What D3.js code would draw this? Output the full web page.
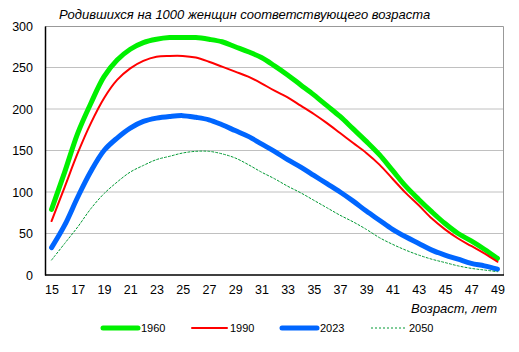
<!DOCTYPE html>
<html>
<head>
<meta charset="utf-8">
<script src="https://cdn.jsdelivr.net/npm/d3@7"></script>
<style>
  body { margin: 0; background: #fff; }
  svg { font-family: "Liberation Sans", Arial, sans-serif; }
</style>
</head>
<body>
<div id="chart"></div>
<script>
// Ages (x categories)
const ages = d3.range(15, 50);
const yTicks = [0, 50, 100, 150, 200, 250, 300];

// Births per 1000 women of the corresponding age
const v1960 = [79, 124, 171, 207, 239, 259, 272, 280, 284, 286, 286, 286, 284, 281, 275, 269, 262, 252, 241,
               229, 217, 204, 191, 176, 161, 145, 126, 107, 91, 76, 62, 50, 41, 31, 20];
const v1990 = [65, 106, 147, 183, 213, 235, 249, 258, 263, 264, 264, 262, 257, 251, 245, 239, 231, 222, 214,
               204, 194, 183, 171, 159, 147, 133, 116, 99, 84, 68, 55, 44, 35, 26, 16];
const v2023 = [33, 60, 94, 125, 150, 165, 177, 185, 189, 191, 192, 190, 187, 181, 174, 167, 158, 149, 139,
               130, 120, 110, 100, 89, 77, 66, 55, 46, 38, 30, 24, 19, 14, 11, 7];
const v2050 = [18, 38, 58, 80, 98, 112, 124, 132, 139, 143, 147, 149, 149, 146, 141, 133, 124, 116, 107,
               99, 90, 81, 72, 64, 55, 45, 37, 30, 24, 19, 15, 11, 8, 6, 4];

const seriesNames = ['1960', '1990', '2023', '2050'];
const seriesValues = [v1960, v1990, v2023, v2050];
const seriesStyle = [
    {color: '#00f000', width: 5, dash: null},
    {color: '#ff0000', width: 2, dash: null},
    {color: '#0066ff', width: 5, dash: null},
    {color: '#009933', width: 1, dash: '2,2'}
];

const width = 519, height = 352;
const plot = {left: 45, right: 504, top: 26, bottom: 275};

const svg = d3.select('#chart')
    .append('svg')
    .attr('width', width)
    .attr('height', height);

const x = d3.scalePoint()
    .domain(ages)
    .range([plot.left, plot.right])
    .padding(0.5);

const y = d3.scaleLinear()
    .domain([0, 300])
    .range([plot.bottom, plot.top]);

// Gridlines
svg.append('g')
    .selectAll('line')
    .data(yTicks.filter(d => d > 0 && d < 300))
    .enter().append('line')
    .attr('x1', plot.left)
    .attr('x2', plot.right)
    .attr('y1', d => y(d))
    .attr('y2', d => y(d))
    .attr('stroke', '#c0c0c0')
    .attr('stroke-width', 1);

// Plot frame: grey top/right, black left/bottom
svg.append('path')
    .attr('d', `M${plot.left},${plot.top + 0.5}H${plot.right - 0.5}V${plot.bottom}`)
    .attr('fill', 'none')
    .attr('stroke', '#999')
    .attr('stroke-width', 1);

// Y axis
const yAxis = svg.append('g')
    .attr('transform', `translate(${plot.left},0)`)
    .call(d3.axisLeft(y).tickValues(yTicks).tickSize(0).tickPadding(12));
yAxis.select('.domain').attr('stroke', '#000').attr('stroke-width', 1.5);
yAxis.selectAll('text')
    .attr('fill', '#000')
    .style('font-size', '12.5px')
    .style('font-family', '"Liberation Sans", Arial, sans-serif');

// X axis
const xAxis = svg.append('g')
    .attr('transform', `translate(0,${plot.bottom})`)
    .call(d3.axisBottom(x).tickValues(ages.filter(a => a % 2 === 1)).tickSize(0).tickPadding(10));
xAxis.select('.domain').attr('d', `M${plot.left},0H${plot.right}`).attr('stroke', '#000').attr('stroke-width', 1.5);
xAxis.selectAll('text')
    .attr('fill', '#000')
    .style('font-size', '12.5px')
    .style('font-family', '"Liberation Sans", Arial, sans-serif');

// Lines
const line = d3.line()
    .x((d, i) => x(ages[i]))
    .y(d => y(d))
    .curve(d3.curveCatmullRom);

svg.append('g')
    .selectAll('path')
    .data(seriesValues)
    .enter().append('path')
    .attr('d', line)
    .attr('fill', 'none')
    .attr('stroke', (d, i) => seriesStyle[i].color)
    .attr('stroke-width', (d, i) => seriesStyle[i].width)
    .attr('stroke-dasharray', (d, i) => seriesStyle[i].dash)
    .attr('stroke-linecap', 'round')
    .attr('stroke-linejoin', 'round');

// Title
svg.append('text')
    .attr('x', 59)
    .attr('y', 19)
    .style('font-size', '13px')
    .style('font-style', 'italic')
    .text('Родившихся на 1000 женщин соответствующего возраста');

// X axis title
svg.append('text')
    .attr('x', 497)
    .attr('y', 313)
    .attr('text-anchor', 'end')
    .style('font-size', '13px')
    .style('font-style', 'italic')
    .text('Возраст, лет');

// Legend
const legendX = [103, 192, 282, 371];
const legend = svg.append('g')
    .selectAll('g')
    .data(seriesNames)
    .enter().append('g')
    .attr('transform', (d, i) => `translate(${legendX[i]},328)`);

legend.append('line')
    .attr('x1', 0)
    .attr('x2', 35)
    .attr('stroke', (d, i) => seriesStyle[i].color)
    .attr('stroke-width', (d, i) => seriesStyle[i].width)
    .attr('stroke-dasharray', (d, i) => seriesStyle[i].dash)
    .attr('stroke-linecap', (d, i) => seriesStyle[i].dash ? 'butt' : 'round');

legend.append('text')
    .attr('x', 38)
    .attr('y', 4)
    .style('font-size', '11px')
    .text(d => d);
</script>
</body>
</html>
